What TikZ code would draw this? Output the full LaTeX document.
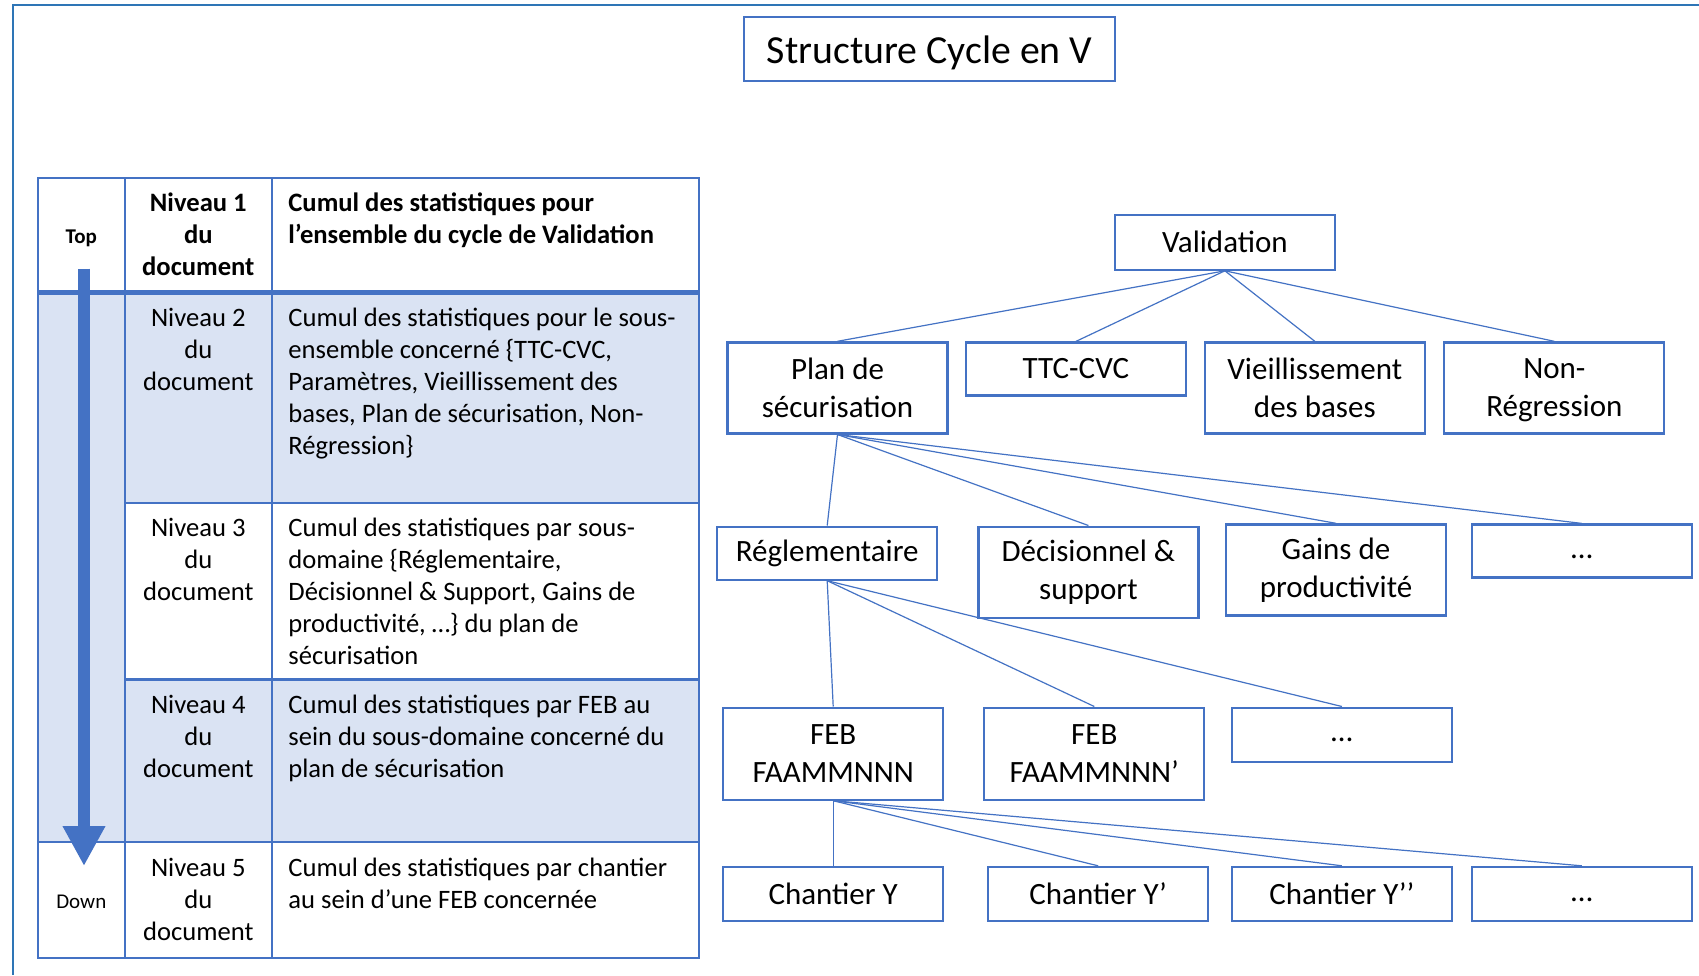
\documentclass[tikz,border=0pt]{standalone}
\usepackage{fontspec}
\setmainfont{Carlito}
\usetikzlibrary{arrows.meta}
\definecolor{acc}{HTML}{4472C4}
\definecolor{shadeblue}{HTML}{DAE3F3}
\definecolor{frameblue}{HTML}{2E75B6}
\newcommand\fstrut{\rule{0pt}{24pt}}
\begin{document}
\begin{tikzpicture}[x=1pt,y=-1pt,
  tbox/.style={draw=acc, line width=2.2pt, minimum width=220pt, inner sep=0pt, align=center, font=\fontsize{31}{38}\selectfont},
  link/.style={draw=acc, line width=1.2pt},
  tline/.style={draw=acc, line width=2.2pt},
  cell/.style={anchor=north west, inner sep=0pt, align=left, font=\fontsize{26.6}{32}\selectfont},
  ccell/.style={anchor=north, inner sep=0pt, align=center, font=\fontsize{26.6}{32}\selectfont},
  side/.style={anchor=base, inner sep=0pt, font=\fontsize{21}{25}\selectfont},
]
\useasboundingbox (0,0) rectangle (1699,975);
\fill[white] (0,0) rectangle (1699,975);
% outer frame
\draw[frameblue, line width=2pt] (12.8,975) -- (12.8,4.7) -- (1699,4.7);
% title
\node[draw=acc, line width=2.2pt, minimum width=370.5pt, minimum height=64pt, inner sep=0pt, text depth=0pt, font=\fontsize{39.8}{47}\selectfont] (title) at (929.6,49.3) {Structure Cycle en V};

% ---- table ----
\fill[shadeblue] (37.9,292.5) rectangle (698.9,502.7);
\fill[shadeblue] (37.9,502.7) rectangle (124.6,679.4);
\fill[shadeblue] (37.9,679.4) rectangle (698.9,841.9);
\draw[tline] (37.9,177.7) rectangle (698.9,957.8);
\draw[tline] (124.6,177.7) -- (124.6,957.8);
\draw[tline] (272,177.7) -- (272,957.8);
\draw[acc, line width=4.3pt] (37.9,292.5) -- (698.9,292.5);
\draw[tline] (124.6,502.7) -- (698.9,502.7);
\draw[tline] (124.6,679.4) -- (698.9,679.4);
\draw[tline] (37.9,841.9) -- (698.9,841.9);

\node[ccell, font=\fontsize{26.6}{32}\selectfont\bfseries] (n1) at (198.3,187.7) {\fstrut Niveau 1\\du\\document};
\node[cell, font=\fontsize{26.6}{32}\selectfont\bfseries] (c1) at (288.2,187.7) {\fstrut Cumul des statistiques pour\\l’ensemble du cycle de Validation};
\node[ccell] (n2) at (198.3,302.5) {\fstrut Niveau 2\\du\\document};
\node[cell] (c2) at (288.2,302.5) {\fstrut Cumul des statistiques pour le sous-\\ensemble concerné \{TTC-CVC,\\Paramètres, Vieillissement des\\bases, Plan de sécurisation, Non-\\Régression\}};
\node[ccell] (n3) at (198.3,512.7) {\fstrut Niveau 3\\du\\document};
\node[cell] (c3) at (288.2,512.7) {\fstrut Cumul des statistiques par sous-\\domaine \{Réglementaire,\\Décisionnel \& Support, Gains de\\productivité, …\} du plan de\\sécurisation};
\node[ccell] (n4) at (198.3,689.4) {\fstrut Niveau 4\\du\\document};
\node[cell] (c4) at (288.2,689.4) {\fstrut Cumul des statistiques par FEB au\\sein du sous-domaine concerné du\\plan de sécurisation};
\node[ccell] (n5) at (198.3,851.9) {\fstrut Niveau 5\\du\\document};
\node[cell] (c5) at (288.2,851.9) {\fstrut Cumul des statistiques par chantier\\au sein d’une FEB concernée};

\node[side, font=\fontsize{21}{25}\selectfont\bfseries] (top) at (81.3,243.5) {Top};
\node[side] (down) at (81.3,908) {Down};
\coordinate (atop) at (84,268.7);
\coordinate (abot) at (84,866);
\draw[acc, line width=12pt, -{Triangle[width=40pt,length=40pt]}] (atop) -- (abot);

% ---- tree ----
\node[tbox, minimum height=55pt] (val) at (1224.9,242.2) {Validation};
\node[tbox, minimum height=91pt] (plan) at (837.5,387.9) {Plan de\\sécurisation};
\node[tbox, minimum height=53pt] (ttc) at (1075.9,369) {TTC-CVC};
\node[tbox, minimum height=91pt] (vieil) at (1314.8,387.9) {Vieillissement\\des bases};
\node[tbox, minimum height=91pt, text depth=0pt] (nonreg) at (1554.3,387.9) {Non-\\Régression};

\node[tbox, minimum height=53pt] (regl) at (827.2,553.1) {Réglementaire};
\node[tbox, minimum height=91pt] (decis) at (1088.4,572.1) {Décisionnel \&\\support};
\node[tbox, minimum height=91pt] (gains) at (1336,569.9) {Gains de\\productivité};
\node[tbox, minimum height=53pt] (dotsa) at (1581.9,551) {\vphantom{Ag}…};

\node[tbox, minimum height=92pt] (feba) at (833.2,753.6) {FEB\\FAAMMNNN};
\node[tbox, minimum height=92pt] (febb) at (1094.3,753.6) {FEB\\FAAMMNNN’};
\node[tbox, minimum height=54pt] (dotsb) at (1341.9,734.6) {\vphantom{Ag}…};

\node[tbox, minimum height=54pt] (cha) at (833.2,893.9) {Chantier Y};
\node[tbox, minimum height=54pt] (chb) at (1098.1,893.9) {Chantier Y’};
\node[tbox, minimum height=54pt] (chc) at (1341.9,893.9) {Chantier Y’’};
\node[tbox, minimum height=54pt] (dotsc) at (1581.9,893.9) {\vphantom{Ag}…};

\foreach \c in {plan,ttc,vieil,nonreg} \draw[link] (val.south) -- (\c.north);
\foreach \c in {regl,decis,gains,dotsa} \draw[link] (plan.south) -- (\c.north);
\foreach \c in {feba,febb,dotsb} \draw[link] (regl.south) -- (\c.north);
\foreach \c in {cha,chb,chc,dotsc} \draw[link] (feba.south) -- (\c.north);
\end{tikzpicture}
\end{document}
